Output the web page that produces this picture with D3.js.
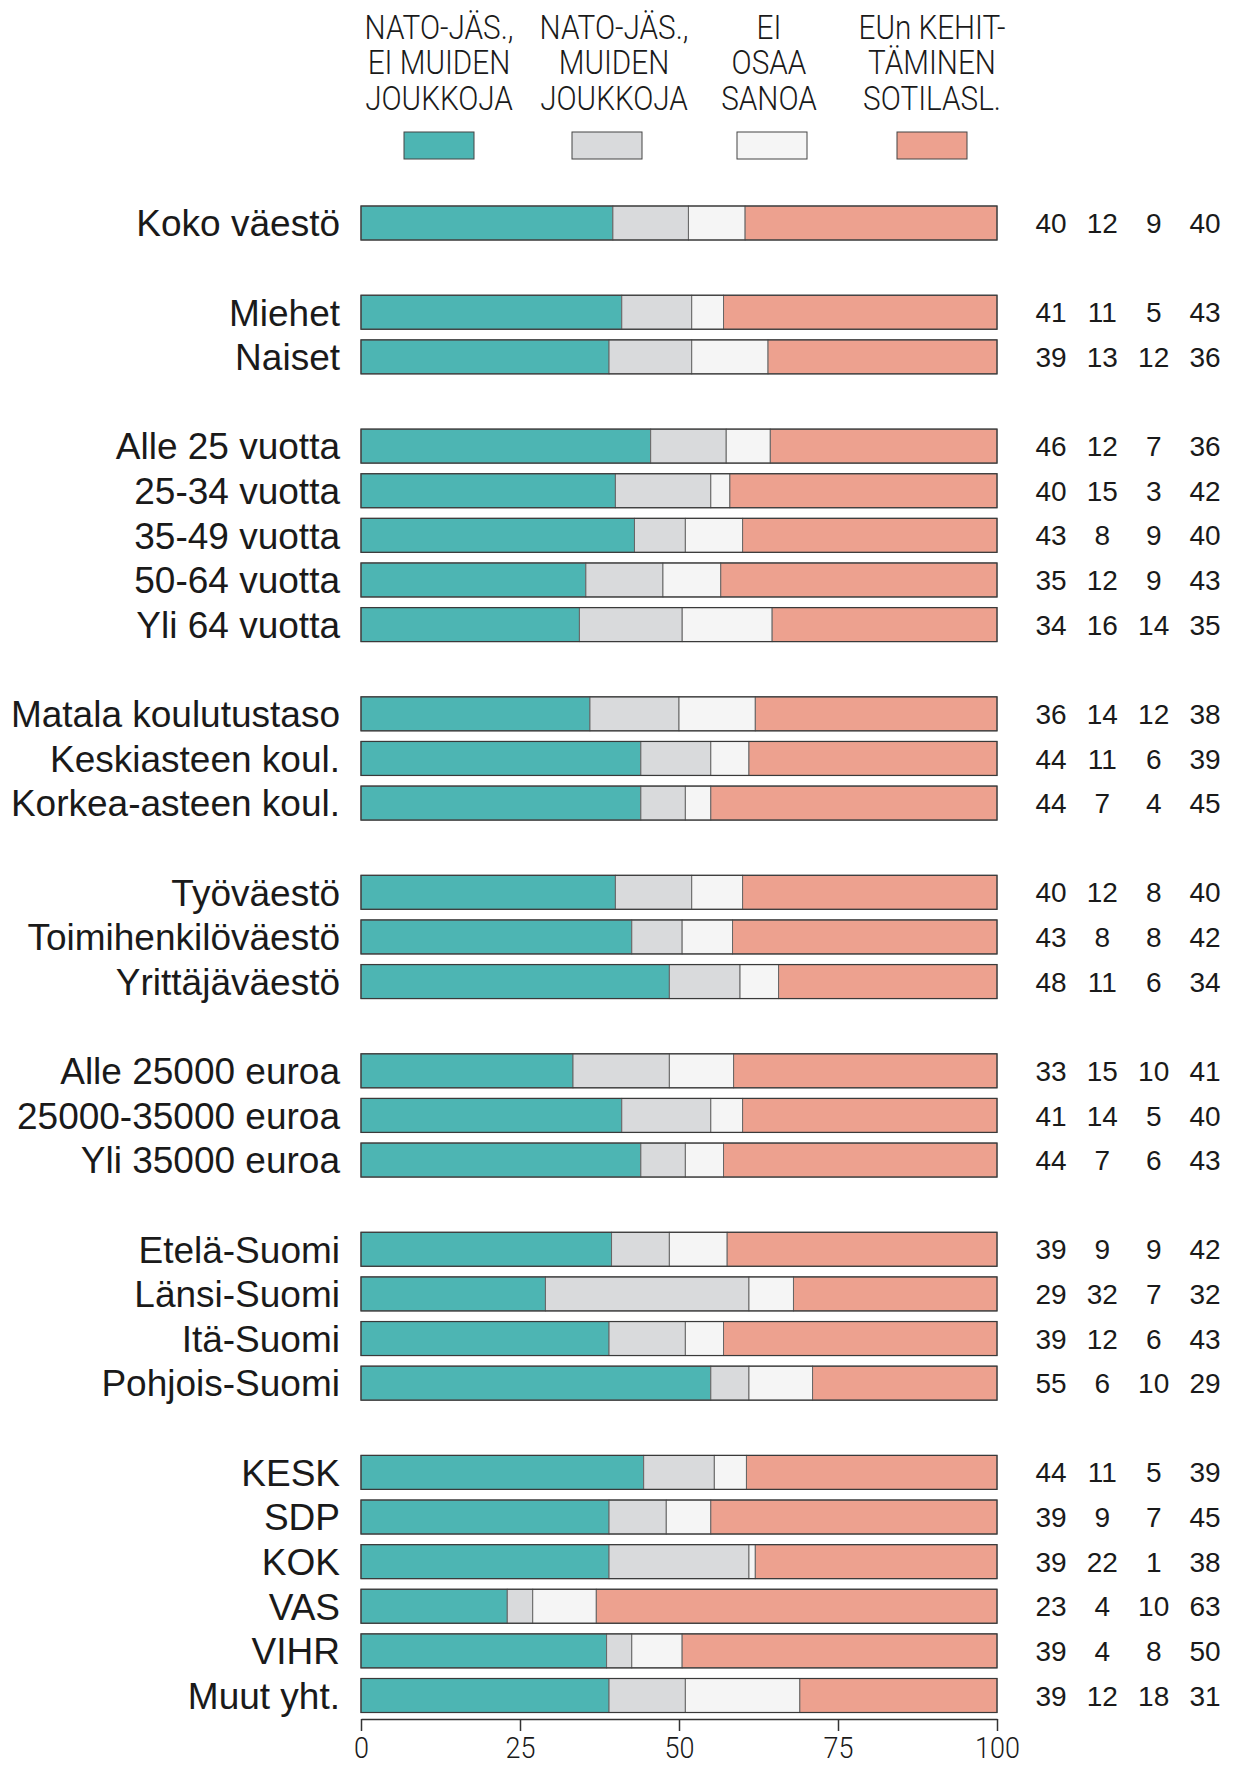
<!DOCTYPE html>
<html>
<head>
<meta charset="utf-8">
<script src="https://cdn.jsdelivr.net/npm/d3@7"></script>
<style>
  body { margin: 0; background: #fff; }
  svg { display: block; }
</style>
</head>
<body>
<div id="chart"></div>
<script>
const width = 1237;
const height = 1767;

// series (legend order)
const seriesKeys = ['nato', 'natoMuut', 'eos', 'eu'];
const seriesLabels = [
  ['NATO-JÄS.,', 'EI MUIDEN', 'JOUKKOJA'],
  ['NATO-JÄS.,', 'MUIDEN', 'JOUKKOJA'],
  ['EI', 'OSAA', 'SANOA'],
  ['EUn KEHIT-', 'TÄMINEN', 'SOTILASL.']
];
const seriesColors = ['#4db5b3', '#d9dadc', '#f5f5f5', '#eda18f'];

// categories, grouped
const groups = [
  ['Koko väestö'],
  ['Miehet', 'Naiset'],
  ['Alle 25 vuotta', '25-34 vuotta', '35-49 vuotta', '50-64 vuotta', 'Yli 64 vuotta'],
  ['Matala koulutustaso', 'Keskiasteen koul.', 'Korkea-asteen koul.'],
  ['Työväestö', 'Toimihenkilöväestö', 'Yrittäjäväestö'],
  ['Alle 25000 euroa', '25000-35000 euroa', 'Yli 35000 euroa'],
  ['Etelä-Suomi', 'Länsi-Suomi', 'Itä-Suomi', 'Pohjois-Suomi'],
  ['KESK', 'SDP', 'KOK', 'VAS', 'VIHR', 'Muut yht.']
];

const natoValues     = [40, 41, 39, 46, 40, 43, 35, 34, 36, 44, 44, 40, 43, 48, 33, 41, 44, 39, 29, 39, 55, 44, 39, 39, 23, 39, 39];
const natoMuutValues = [12, 11, 13, 12, 15,  8, 12, 16, 14, 11,  7, 12,  8, 11, 15, 14,  7,  9, 32, 12,  6, 11,  9, 22,  4,  4, 12];
const eosValues      = [ 9,  5, 12,  7,  3,  9,  9, 14, 12,  6,  4,  8,  8,  6, 10,  5,  6,  9,  7,  6, 10,  5,  7,  1, 10,  8, 18];
const euValues       = [40, 43, 36, 36, 42, 40, 43, 35, 38, 39, 45, 40, 42, 34, 41, 40, 43, 42, 32, 43, 29, 39, 45, 38, 63, 50, 31];

const xTicks = [0, 25, 50, 75, 100];

const categories = groups.flat();
const rows = categories.map((c, i) => ({
  name: c,
  nato: natoValues[i],
  natoMuut: natoMuutValues[i],
  eos: eosValues[i],
  eu: euValues[i]
}));

// slot domain with an empty slot between groups
const slots = [];
groups.forEach((g, gi) => {
  if (gi > 0) slots.push('gap-' + gi);
  g.forEach(c => slots.push(c));
});

const x = d3.scaleLinear().domain([0, 100]).range([361, 997]);
const y = d3.scalePoint().domain(slots).range([223, 1695.5]);
const barH = 34;
const color = d3.scaleOrdinal().domain(seriesKeys).range(seriesColors);

const stack = d3.stack().keys(seriesKeys).offset(d3.stackOffsetExpand);
const stacked = stack(rows);

const condensed = "Roboto, 'DejaVu Sans', sans-serif";

const svg = d3.select('#chart').append('svg')
  .attr('width', width)
  .attr('height', height);

// legend (text and swatch centres are not quite even in the original)
const legendTextX = [439, 614, 769, 932];
const legendSwatchX = [439, 607, 772, 932];
const legend = svg.append('g').attr('class', 'legend');
seriesKeys.forEach((k, i) => {
  const lg = legend.append('g');
  lg.append('g')
    .attr('transform', `translate(${legendTextX[i]},0) scale(0.9,1)`)
    .selectAll('text')
    .data(seriesLabels[i])
    .join('text')
      .attr('x', 0)
      .attr('y', (d, j) => 39 + j * 35.5)
      .attr('text-anchor', 'middle')
      .attr('font-family', condensed)
      .attr('font-weight', 300)
      .attr('font-size', 33)
      .attr('fill', '#1a1a1a')
      .text(d => d);
  lg.append('rect')
    .attr('x', legendSwatchX[i] - 35)
    .attr('y', 132)
    .attr('width', 70)
    .attr('height', 27)
    .attr('fill', color(k))
    .attr('stroke', '#444')
    .attr('stroke-width', 1);
});

// bars
const barsG = svg.append('g').attr('class', 'bars');
barsG.selectAll('g.series')
  .data(stacked)
  .join('g')
    .attr('class', 'series')
    .attr('fill', d => color(d.key))
  .selectAll('rect')
  .data(d => d)
  .join('rect')
    .attr('x', d => x(d[0] * 100))
    .attr('y', d => y(d.data.name) - barH / 2)
    .attr('width', d => x(d[1] * 100) - x(d[0] * 100))
    .attr('height', barH)
    .attr('stroke', '#666')
    .attr('stroke-width', 1);

barsG.selectAll('rect.outline')
  .data(rows)
  .join('rect')
    .attr('class', 'outline')
    .attr('x', x(0))
    .attr('y', d => y(d.name) - barH / 2)
    .attr('width', x(100) - x(0))
    .attr('height', barH)
    .attr('fill', 'none')
    .attr('stroke', '#3a3a3a')
    .attr('stroke-width', 1.2);

// category labels
svg.append('g')
  .selectAll('text')
  .data(rows)
  .join('text')
    .attr('x', 340)
    .attr('y', d => y(d.name))
    .attr('dy', '0.36em')
    .attr('text-anchor', 'end')
    .attr('font-family', "'Liberation Sans', Arial, sans-serif")
    .attr('font-size', 37)
    .attr('fill', '#1a1a1a')
    .text(d => d.name);

// value columns
const colX = d3.scalePoint().domain(seriesKeys).range([1051, 1205]);
const valG = svg.append('g');
seriesKeys.forEach(k => {
  valG.append('g')
    .selectAll('text')
    .data(rows)
    .join('text')
      .attr('x', colX(k))
      .attr('y', d => y(d.name))
      .attr('dy', '0.36em')
      .attr('text-anchor', 'middle')
      .attr('font-family', "'Liberation Sans', Arial, sans-serif")
      .attr('font-size', 28)
      .attr('fill', '#1a1a1a')
      .text(d => d[k]);
});

// x axis
const axis = d3.axisBottom(x)
  .tickValues(xTicks)
  .tickSize(12)
  .tickPadding(6)
  .tickSizeOuter(0);
const axG = svg.append('g')
  .attr('transform', 'translate(0,1719)')
  .call(axis);
axG.select('.domain').attr('stroke', '#333').attr('stroke-width', 1.5);
axG.selectAll('.tick line').attr('stroke', '#333').attr('stroke-width', 1.5);
axG.selectAll('.tick text')
  .attr('font-family', condensed)
  .attr('font-weight', 300)
  .attr('font-size', 30)
  .attr('fill', '#1a1a1a')
  .attr('transform', 'scale(0.9,1)');
</script>
</body>
</html>
